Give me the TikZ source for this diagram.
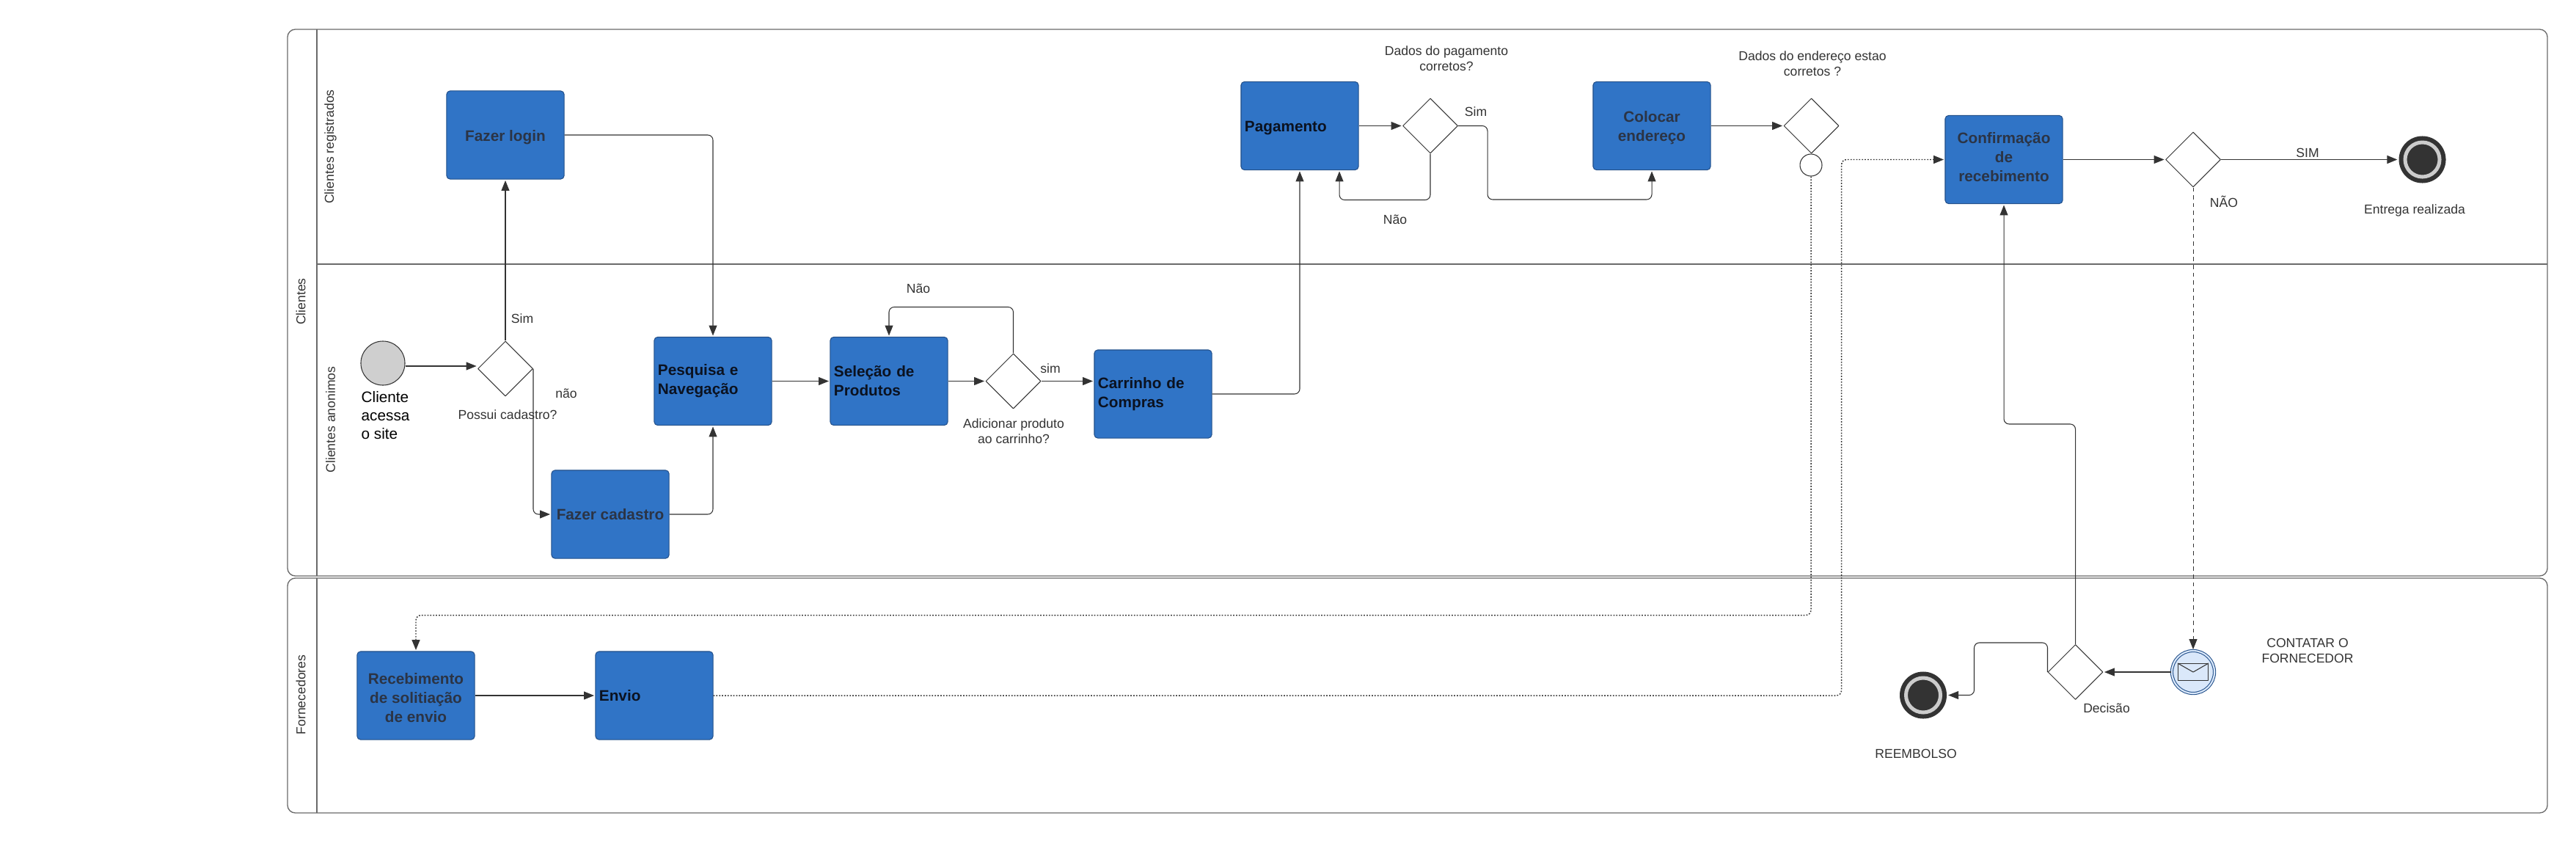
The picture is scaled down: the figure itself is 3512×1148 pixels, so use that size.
\documentclass[tikz,border=0pt]{standalone}
\usepackage{fontspec}
\setmainfont{Liberation Sans}
\usetikzlibrary{arrows.meta,shapes.geometric}
\definecolor{taskblue}{HTML}{3074C6}
\definecolor{taskedge}{HTML}{23508A}
\definecolor{inkdark}{HTML}{333333}
\definecolor{inkgrey}{HTML}{2B3445}
\definecolor{inkblack}{HTML}{0B1220}
\definecolor{lanegrey}{HTML}{6A6A6A}
\definecolor{msgblue}{HTML}{DAE8FA}
\newcommand{\lo}{\rule{0pt}{6pt}}
\newcommand{\hi}{\rule[-1.8pt]{0pt}{0pt}}
\tikzset{
	task/.style={draw=taskedge, fill=taskblue, rounded corners=1.3pt, minimum width=1.6cm, minimum height=1.2cm, inner sep=0pt, line width=.3pt, font=\fontsize{5.9}{7.4}\selectfont\bfseries},
	taskc/.style={task, align=center, text=inkgrey},
	taskl/.style={task, align=left, text width=1.5cm, text=inkblack},
	gate/.style={diamond, draw=inkdark, fill=white, minimum width=.75cm, minimum height=.75cm, inner sep=0pt, line width=.28pt},
	tag/.style={font=\fontsize{5}{6}\selectfont, align=center, text=inkdark, inner sep=0pt},
	lanetag/.style={tag, rotate=90},
	finish/.style={circle, fill=inkdark, minimum size=.64cm, inner sep=0pt},
	finishin/.style={circle, fill=inkdark, draw=black!20, line width=.05cm, minimum size=.47cm, inner sep=0pt},
	arr/.style={->, draw=inkdark, line width=.3pt, rounded corners=2pt, shorten >=.4pt},
	arrdot/.style={arr, line width=.42pt, dash pattern=on .5pt off .6pt},
	arrdash/.style={arr, line width=.25pt, dash pattern=on 1.6pt off 1.4pt},
}
\begin{document}
\begin{tikzpicture}[x=.01cm, y=-.01cm, line join=round, >={Stealth[length=.14cm, width=.11cm, inset=0pt]}]
	\useasboundingbox (0,0) rectangle (3512,1148);
	% raias
	\draw[lanegrey, line width=.38pt, rounded corners=3pt] (392,40) rectangle (3473,785) (392,788) rectangle (3473,1108);
	\draw[lanegrey, line width=.38pt] (432,40)--(432,785) (432,788)--(432,1108) (432,360)--(3473,360);
	\foreach \n/\x/\y/\t in {lanea/410/411/Clientes, laneb/450.5/200/Clientes registrados, lanec/450.5/572/Clientes anonimos, laned/410/947/Fornecedores}
	\node[lanetag] (\n) at (\x,\y) {\t};
	% tarefas
	\foreach \n/\x/\y/\t in {login/689/184/{\lo Fazer login}, cadastro/832/701/Fazer cadastro, colocar/2252/171.5/{\lo Colocar\\endereço}, confirma/2732/217.5/{Confirmação\\de\\recebimento\hi}, receb/567/948/{\lo Recebimento\\de solitiação\\de envio}}
	\node[taskc] (\n) at (\x,\y) {\t};
	\foreach \n/\x/\y/\t in {pesquisa/972/519.5/{Pesquisa e\\Navegação}, selecao/1212/519.5/{Seleção de\\Produtos}, carrinho/1572/537/{Carrinho de\\Compras}, pagamento/1772/171.5/{\lo Pagamento}, envio/892/948/Envio}
	\node[taskl] (\n) at (\x,\y) {\t};
	% gateways
	\foreach \n/\x/\y in {gwa/689/502.5, gwb/1381.5/519.5, gwc/1950/171.5, gwd/2469.5/171.5, gwe/2990/217.5, gwf/2829.5/916}
	\node[gate] (\n) at (\x,\y) {};
	% eventos
	\node[circle, draw=inkdark, fill=black!19, minimum size=.6cm, inner sep=0pt, line width=.3pt] (inicio) at (522,495) {};
	\node[circle, draw=inkdark, minimum size=.3cm, inner sep=0pt, line width=.3pt] (aux) at (2469,225) {};
	\node[circle, double=msgblue, double distance=.6pt, draw=taskedge, fill=msgblue, minimum size=.58cm, inner sep=0pt, line width=.3pt] (msg) at (2990,916) {};
	\node[draw=inkdark, minimum width=.41cm, minimum height=.23cm, inner sep=0pt, line width=.3pt] (env) at (2990,916) {};
	\draw[inkdark, line width=.3pt] (env.north west)--(env.center)--(env.north east);
	\foreach \n/\x/\y in {fima/3302.5/217.5, fimb/2622/947.5}{
		\node[finish] (\n) at (\x,\y) {};
		\node[finishin] (\n in) at (\x,\y) {};
	}
	% textos
	\foreach \n/\x/\y/\t in {ta/712/434/Sim, tb/772/536/não, tc/692/565/Possui cadastro?, td/1252/393/Não, te/1432/502/sim, tf/1382/587.5/{Adicionar produto\\ao carrinho?}, tg/1972/79.5/{Dados do pagamento\\corretos?}, th/2012/152/Sim, ti/1902/299/Não, tj/2471/86.5/{Dados do endereço estao\\corretos ?}, tk/3146/208/SIM, tl/3032/275/NÃO, tm/3292/287/Entrega realizada, tn/3146/886.5/{CONTATAR O\\FORNECEDOR}, to/2872/965/Decisão, tp/2612/1027/REEMBOLSO}
	\node[tag] (\n) at (\x,\y) {\t};
	\node[font=\fontsize{5.9}{7.1}\selectfont, align=left, inner sep=0pt, anchor=north west] (acesso) at (492,533) {Cliente\\acessa\\o site};
	% conectores
	\draw[arr] (inicio.east |- 0,499) -- (gwa.west |- 0,499);
	\draw[arr] (gwa.north) -- (login.south);
	\draw[arr] (gwa.east) |- (cadastro.west);
	\draw[arr] (login.east) -| (pesquisa.north);
	\draw[arr] (cadastro.east) -| (pesquisa.south);
	\draw[arr] (pesquisa.east) -- (selecao.west);
	\draw[arr] (selecao.east) -- (gwb.west);
	\draw[arr] (gwb.east) -- (carrinho.west |- gwb.east);
	\draw[arr] (gwb.north) -- ++(0,-63) -| (selecao.north);
	\draw[arr] (carrinho.east) -| (pagamento.south);
	\draw[arr] (pagamento.east) -- (gwc.west);
	\draw[arr] (gwc.south) -- ++(0,63) -| ([xshift=.54cm]pagamento.south);
	\draw[arr] (gwc.east) -- ++(40,0) -- ++(0,100.5) -| (colocar.south);
	\draw[arr] (colocar.east) -- (gwd.west);
	\draw[arr] (confirma.east) -- (gwe.west);
	\draw[arr, line width=.45pt] (gwe.east) -- (fima.west);
	\draw[arr] (receb.east) -- (envio.west);
	\draw[arr] (msg.west) -- (gwf.east);
	\draw[arr] (gwf.north) -- ++(0,-300) -| (confirma.south);
	\draw[arr] (gwf.west) -- ++(0,-40) -- ++(-100,0) |- (fimb.east);
	\draw[arrdot] (aux.south) -- ++(0,598) -| (receb.north);
	\draw[arrdot] (envio.east) -- ++(1538,0) |- (confirma.west);
	\draw[arrdash] (gwe.south) -- (msg.north);
\end{tikzpicture}
\end{document}
